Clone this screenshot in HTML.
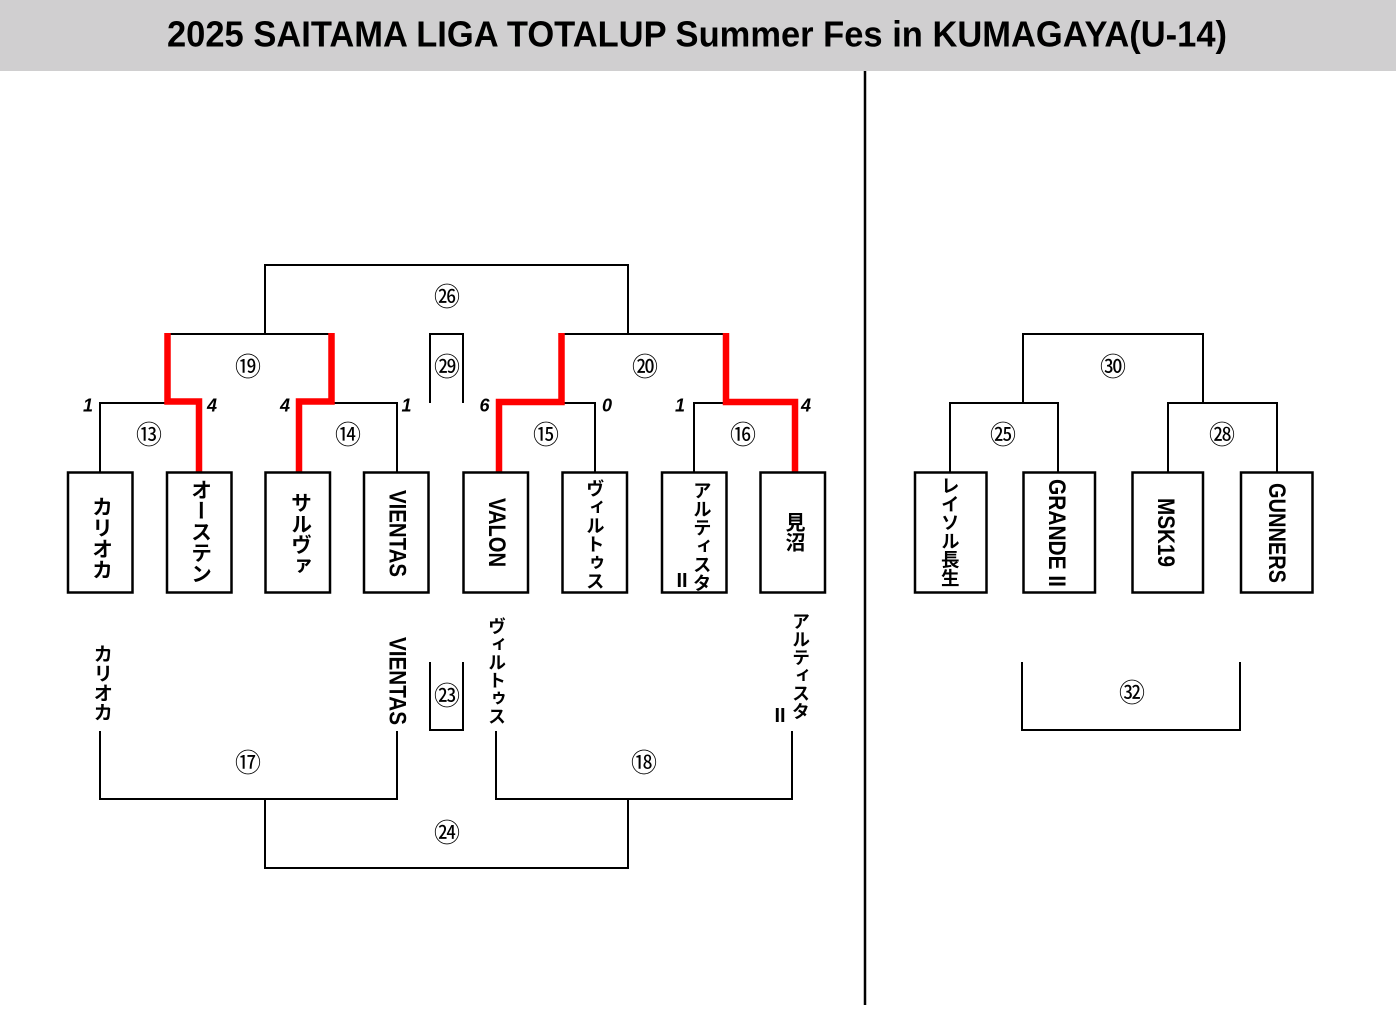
<!DOCTYPE html>
<html>
<head>
<meta charset="utf-8">
<style>
  html, body { margin:0; padding:0; background:#fff; }
  #root { position:relative; width:1396px; height:1009px; overflow:hidden; background:#fff; }
  #hdr { position:absolute; left:0; top:0; width:1396px; height:71px; background:#d0cfd0; }
  svg { position:absolute; left:0; top:0; }
  .v { position:absolute; writing-mode:vertical-rl; font-family:"Liberation Sans","Noto Sans CJK JP",sans-serif; font-weight:bold; line-height:1; white-space:nowrap; color:#000; }
</style>
</head>
<body>
<div id="root">
  <div id="hdr"></div>
  <svg width="1396" height="1009" viewBox="0 0 1396 1009" xmlns="http://www.w3.org/2000/svg">
    <!-- title -->
    <text x="167" y="46.5" font-family="Liberation Sans, sans-serif" font-weight="bold" font-size="36" textLength="1060" lengthAdjust="spacingAndGlyphs" fill="#000">2025 SAITAMA LIGA TOTALUP Summer Fes in KUMAGAYA(U-14)</text>

    <!-- divider -->
    <line x1="865" y1="71" x2="865" y2="1005" stroke="#000" stroke-width="2.5"/>

    <g fill="none" stroke="#000" stroke-width="2" stroke-linejoin="miter">
      <!-- left top -->
      <polyline points="265,334 265,265 628,265 628,334"/>
      <line x1="167" y1="334" x2="332" y2="334"/>
      <polyline points="100,472 100,403 170,403"/>
      <polyline points="330,403 397,403 397,472"/>
      <polyline points="430,403 430,334 463,334 463,403"/>
      <line x1="562" y1="334" x2="725" y2="334"/>
      <polyline points="560,403 595,403 595,472"/>
      <polyline points="694,472 694,403 728,403"/>
      <!-- left bottom -->
      <polyline points="100,731 100,799 397,799 397,731"/>
      <polyline points="265,799 265,868 628,868 628,799"/>
      <polyline points="496,731 496,799 792,799 792,731"/>
      <polyline points="430,662 430,730 463,730 463,662"/>
      <!-- right -->
      <polyline points="950,472 950,403 1058,403 1058,472"/>
      <polyline points="1023,403 1023,334 1203,334 1203,403"/>
      <polyline points="1168,472 1168,403 1277,403 1277,472"/>
      <polyline points="1022,662 1022,730 1240,730 1240,662"/>
    </g>

    <!-- red winner paths -->
    <g fill="none" stroke="#ff0000" stroke-width="6.5" stroke-linejoin="miter" stroke-linecap="butt">
      <polyline points="199,472 199,401.5 167.5,401.5 167.5,333"/>
      <polyline points="299,472 299,401.5 331.5,401.5 331.5,333"/>
      <polyline points="499,472 499,402 561.5,402 561.5,333"/>
      <polyline points="726,333 726,402 795,402 795,472"/>
    </g>

    <!-- team boxes -->
    <g fill="#fff" stroke="#000" stroke-width="2.5">
      <rect x="68" y="472.5" width="64.5" height="120"/>
      <rect x="167" y="472.5" width="64.5" height="120"/>
      <rect x="265.5" y="472.5" width="64.5" height="120"/>
      <rect x="364" y="472.5" width="64.5" height="120"/>
      <rect x="463.5" y="472.5" width="64.5" height="120"/>
      <rect x="562.5" y="472.5" width="64.5" height="120"/>
      <rect x="662" y="472.5" width="64.5" height="120"/>
      <rect x="760.5" y="472.5" width="64.5" height="120"/>
      <rect x="915" y="472.5" width="71.5" height="120"/>
      <rect x="1023.5" y="472.5" width="71.5" height="120"/>
      <rect x="1132.5" y="472.5" width="70.5" height="120"/>
      <rect x="1241" y="472.5" width="71.5" height="120"/>
    </g>

    <!-- scores -->
    <g font-family="Liberation Sans, sans-serif" font-weight="bold" font-style="italic" font-size="18" text-anchor="middle" fill="#000">
      <text x="88" y="411.5">1</text>
      <text x="212" y="411.5">4</text>
      <text x="285" y="411.5">4</text>
      <text x="406.5" y="411.5">1</text>
      <text x="484.5" y="411.5">6</text>
      <text x="607" y="411.5">0</text>
      <text x="680" y="411.5">1</text>
      <text x="806" y="411.5">4</text>
    </g>

    <!-- match numbers -->
    <g font-family="Liberation Sans, Noto Sans CJK JP, sans-serif" font-size="26" text-anchor="middle" dominant-baseline="central" fill="#000">
      <text x="447" y="297">㉖</text>
      <text x="248" y="367">⑲</text>
      <text x="447" y="367">㉙</text>
      <text x="645" y="367">⑳</text>
      <text x="149" y="435">⑬</text>
      <text x="348" y="435">⑭</text>
      <text x="546" y="435">⑮</text>
      <text x="743" y="435">⑯</text>
      <text x="447" y="696">㉓</text>
      <text x="248" y="763">⑰</text>
      <text x="644" y="763">⑱</text>
      <text x="447" y="833">㉔</text>
      <text x="1113" y="367">㉚</text>
      <text x="1003" y="435">㉕</text>
      <text x="1222" y="435">㉘</text>
      <text x="1132" y="693">㉜</text>
    </g>

    <!-- rotated latin team names -->
    <g font-family="Liberation Sans, sans-serif" font-weight="bold" font-size="24" fill="#000">
      <text transform="translate(389.4,490) rotate(90)" textLength="87" lengthAdjust="spacingAndGlyphs">VIENTAS</text>
      <text transform="translate(488.9,498) rotate(90)" textLength="69" lengthAdjust="spacingAndGlyphs">VALON</text>
      <text transform="translate(1048.9,479) rotate(90)" textLength="108" lengthAdjust="spacingAndGlyphs">GRANDE II</text>
      <text transform="translate(1157.9,498) rotate(90)" textLength="69" lengthAdjust="spacingAndGlyphs">MSK19</text>
      <text transform="translate(1268.9,483) rotate(90)" textLength="100" lengthAdjust="spacingAndGlyphs">GUNNERS</text>
      <text transform="translate(389.4,637) rotate(90)" textLength="88" lengthAdjust="spacingAndGlyphs">VIENTAS</text>
    </g>

    <!-- upright II -->
    <g font-family="Liberation Sans, sans-serif" font-weight="bold" font-size="20" text-anchor="middle" fill="#000">
      <text x="682" y="587">II</text>
      <text x="780" y="722">II</text>
    </g>
  </svg>

  <!-- vertical japanese names (in boxes) -->
  <div class="v" style="left:90.5px; top:495.5px; font-size:21px;">カリオカ</div>
  <div class="v" style="left:189.5px; top:478.5px; font-size:21px;">オーステン</div>
  <div class="v" style="left:289.5px; top:491.5px; font-size:21px;">サルヴァ</div>
  <div class="v" style="left:584.75px; top:478.5px; font-size:18.5px;">ヴィルトゥス</div>
  <div class="v" style="left:691.75px; top:480.5px; font-size:18.5px;">アルティスタ</div>
  <div class="v" style="left:783px; top:512px; font-size:20px;">見沼</div>
  <div class="v" style="left:939.75px; top:476px; font-size:18.5px;">レイソル長生</div>

  <!-- vertical japanese names (bottom) -->
  <div class="v" style="left:90.25px; top:643.5px; font-size:19.5px;">カリオカ</div>
  <div class="v" style="left:487px; top:616.5px; font-size:18px;">ヴィルトゥス</div>
  <div class="v" style="left:791px; top:611.5px; font-size:18px;">アルティスタ</div>
</div>
</body>
</html>
